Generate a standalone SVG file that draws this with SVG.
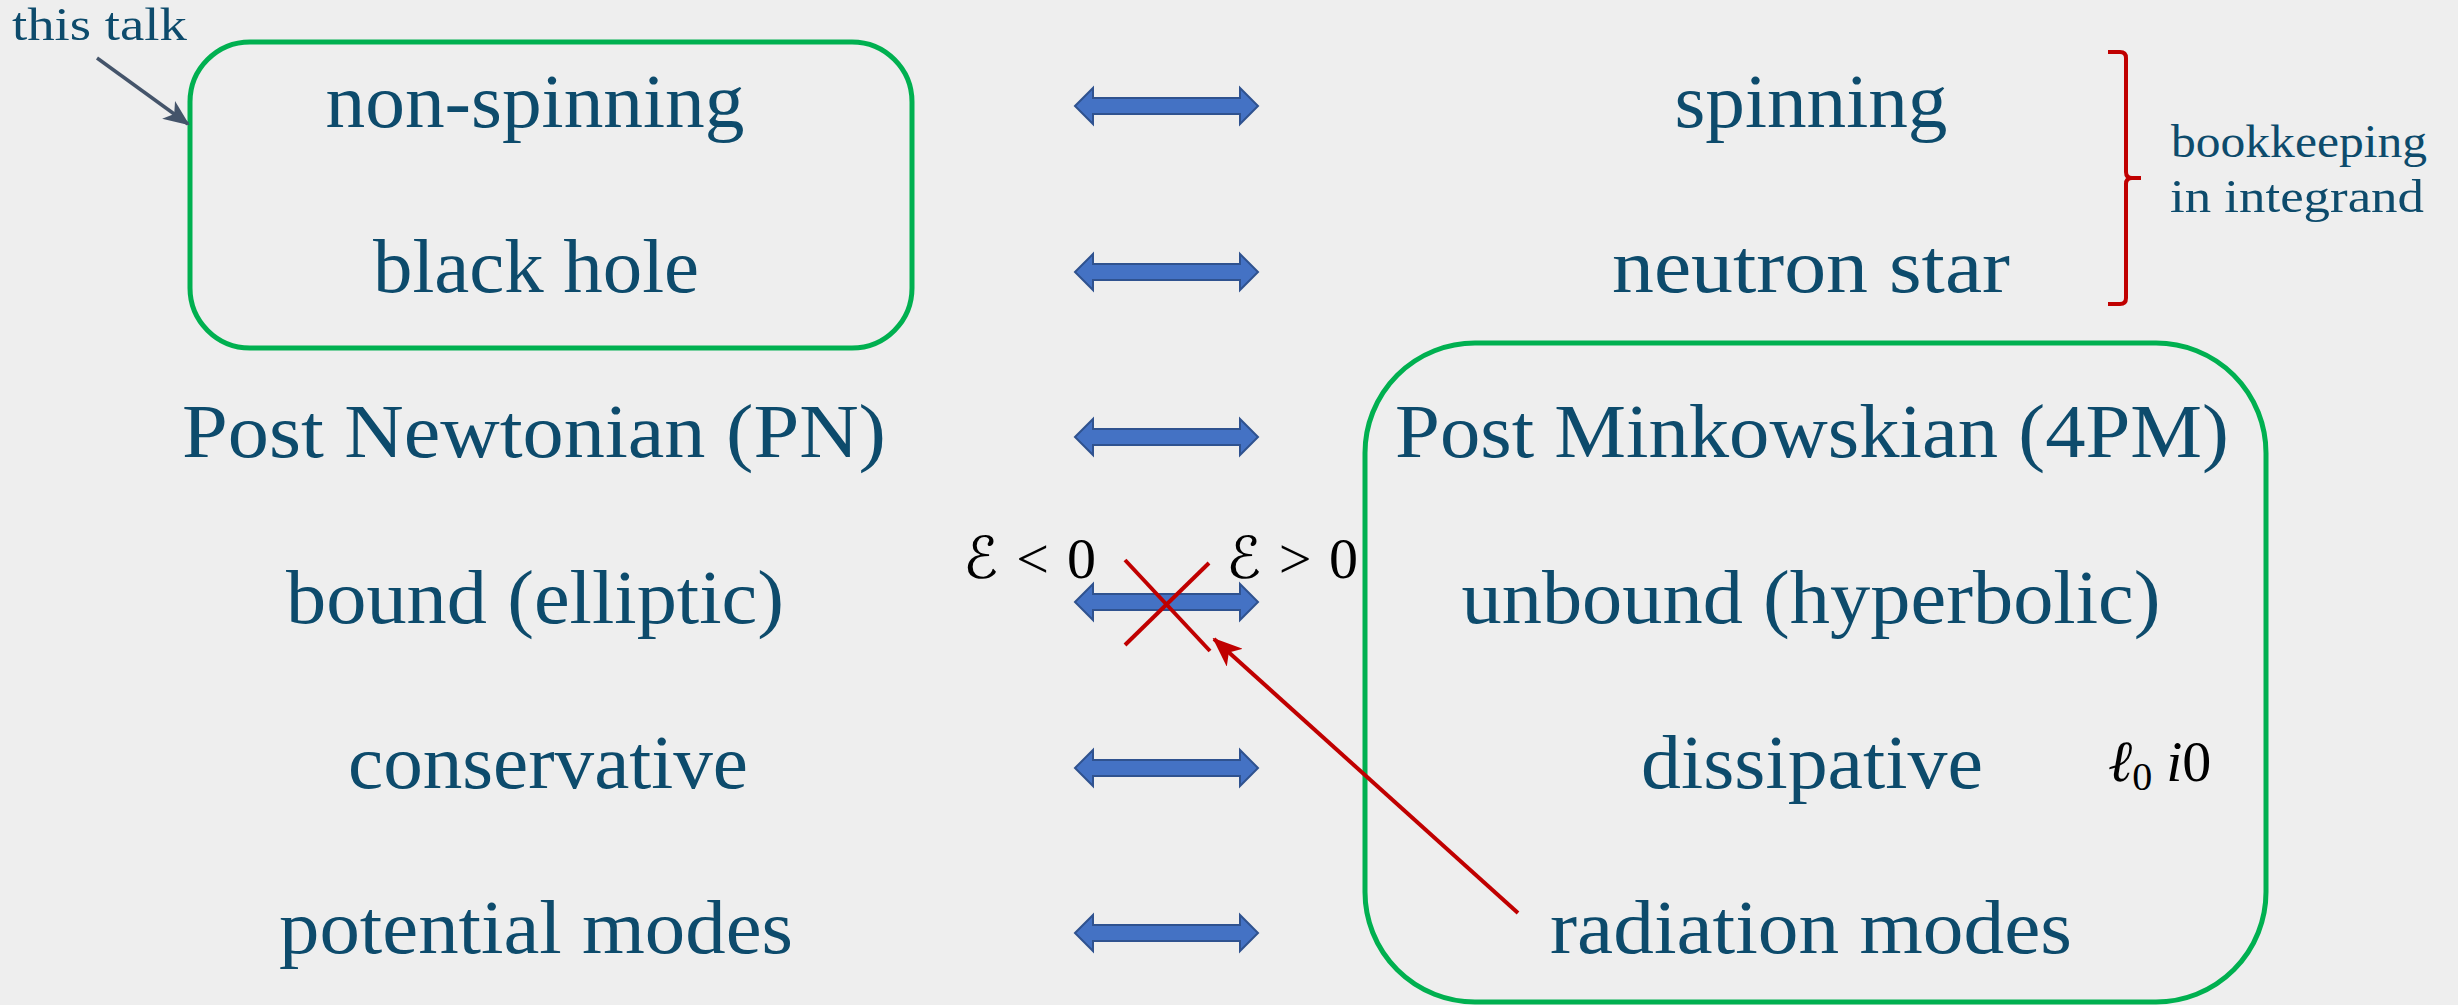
<svg xmlns="http://www.w3.org/2000/svg" width="2458" height="1005" viewBox="0 0 2458 1005">
<style>
.lbl{font-family:"Liberation Serif","DejaVu Serif",serif;font-size:76px;fill:#0D4B6C;text-anchor:middle}
.sml{font-family:"Liberation Serif","DejaVu Serif",serif;font-size:46px;fill:#0D4B6C}
.math{font-family:"Liberation Serif","DejaVu Serif","DejaVu Sans",serif;font-size:58px;fill:#000}
.box{fill:none;stroke:#00B050;stroke-width:5}
.dbl{fill:#4472C4;stroke:#2F528F;stroke-width:2}
.red{stroke:#C00000;fill:none;stroke-width:4}
</style>
<defs>
<polygon id="dblarrow" class="dbl" points="1075,0 1093,-18 1093,-8 1240,-8 1240,-18 1258,0 1240,18 1240,8 1093,8 1093,18"/>
<marker id="slate" viewBox="0 0 26 22" refX="24" refY="11" markerWidth="26" markerHeight="22" markerUnits="userSpaceOnUse" orient="auto">
<path d="M0,0 L26,11 L0,22 L7,11 z" fill="#44546A"/>
</marker>
<marker id="redhead" viewBox="0 0 30 24" refX="28" refY="12" markerWidth="30" markerHeight="24" markerUnits="userSpaceOnUse" orient="auto">
<path d="M0,0 L30,12 L0,24 L8,12 z" fill="#C00000"/>
</marker>
</defs>
<rect width="2458" height="1005" fill="#EEEEEE"/>

<g id="box-this-talk">
<rect class="box" x="190" y="42" width="722" height="306" rx="60" ry="60"/>
</g>
<g id="box-pm">
<rect class="box" x="1365" y="343" width="901" height="659" rx="110" ry="110"/>
</g>

<g id="non-spinning"><text class="lbl" x="535" y="127" textLength="419" lengthAdjust="spacingAndGlyphs">non-spinning</text></g>
<g id="black-hole"><text class="lbl" x="536" y="292" textLength="326" lengthAdjust="spacingAndGlyphs">black hole</text></g>
<g id="post-newtonian"><text class="lbl" x="534" y="457" textLength="704" lengthAdjust="spacingAndGlyphs">Post Newtonian (PN)</text></g>
<g id="bound"><text class="lbl" x="535" y="623" textLength="498" lengthAdjust="spacingAndGlyphs">bound (elliptic)</text></g>
<g id="conservative"><text class="lbl" x="548" y="788" textLength="400" lengthAdjust="spacingAndGlyphs">conservative</text></g>
<g id="potential-modes"><text class="lbl" x="536" y="953" textLength="514" lengthAdjust="spacingAndGlyphs">potential modes</text></g>

<g id="spinning"><text class="lbl" x="1811" y="127" textLength="273" lengthAdjust="spacingAndGlyphs">spinning</text></g>
<g id="neutron-star"><text class="lbl" x="1811" y="292" textLength="398" lengthAdjust="spacingAndGlyphs">neutron star</text></g>
<g id="post-minkowskian"><text class="lbl" x="1812" y="457" textLength="834" lengthAdjust="spacingAndGlyphs">Post Minkowskian (4PM)</text></g>
<g id="unbound"><text class="lbl" x="1811" y="623" textLength="699" lengthAdjust="spacingAndGlyphs">unbound (hyperbolic)</text></g>
<g id="dissipative"><text class="lbl" x="1812" y="788" textLength="342" lengthAdjust="spacingAndGlyphs">dissipative</text></g>
<g id="radiation-modes"><text class="lbl" x="1811" y="953" textLength="522" lengthAdjust="spacingAndGlyphs">radiation modes</text></g>

<g id="this-talk"><text class="sml" x="12" y="40" textLength="175" lengthAdjust="spacingAndGlyphs">this talk</text></g>
<g id="bookkeeping">
<text class="sml" x="2171" y="157" textLength="256" lengthAdjust="spacingAndGlyphs">bookkeeping</text>
<text class="sml" x="2170" y="212" textLength="254" lengthAdjust="spacingAndGlyphs">in integrand</text>
</g>
<g id="energy-neg"><text class="math" x="963" y="578" textLength="133" lengthAdjust="spacing"><tspan font-style="italic">ℰ</tspan> &lt; 0</text></g>
<g id="energy-pos"><text class="math" x="1226" y="578" textLength="132" lengthAdjust="spacing"><tspan font-style="italic">ℰ</tspan> &gt; 0</text></g>
<g id="l0-i0"><text class="math" x="2108" y="781"><tspan font-style="italic">ℓ</tspan><tspan font-size="40" dy="9">0</tspan><tspan dy="-9" dx="14" font-style="italic">i</tspan>0</text></g>

<g id="connectors">
<use href="#dblarrow" transform="translate(0,106)"/>
<use href="#dblarrow" transform="translate(0,272)"/>
<use href="#dblarrow" transform="translate(0,437)"/>
<use href="#dblarrow" transform="translate(0,602)"/>
<use href="#dblarrow" transform="translate(0,768)"/>
<use href="#dblarrow" transform="translate(0,933)"/>
<line x1="97" y1="58" x2="188" y2="124" stroke="#44546A" stroke-width="3.5" marker-end="url(#slate)"/>
<path class="red" d="M2108,52 L2120,52 Q2126,52 2126,58 L2126,172 Q2126,178 2132,178 L2141,178 M2132,178 Q2126,178 2126,184 L2126,298 Q2126,304 2120,304 L2108,304" stroke-width="6"/>
<line class="red" x1="1125" y1="560" x2="1210" y2="651"/>
<line class="red" x1="1209" y1="563" x2="1125" y2="645"/>
<line class="red" x1="1518" y1="913" x2="1214" y2="639" stroke-width="3.5" marker-end="url(#redhead)"/>
</g>
</svg>
